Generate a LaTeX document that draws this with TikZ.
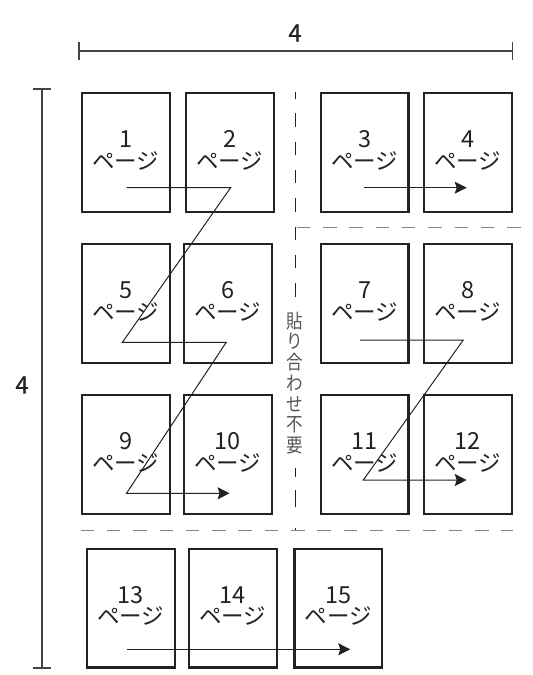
\documentclass[tikz,border=0pt]{standalone}
\usepackage{fontspec}
\setmainfont{Noto Sans CJK JP}
\newfontfamily\dimfont[FakeBold=0.5]{Noto Sans CJK JP}
\usetikzlibrary{arrows.meta,calc}
\definecolor{ink}{HTML}{222222}
\definecolor{dimc}{HTML}{444444}
\definecolor{dashc}{HTML}{858585}
\definecolor{vtc}{HTML}{555555}
\newcommand\mkpage[3]{%
  \node[pg] (b#1) at (#2,#3) {};
  \node[num] (n#1) at ($(b#1.center)+(0,-5)$) {#1};
  \node[kana] (k#1) at ($(b#1.center)+(0,16.5)$) {ページ};
}
\begin{document}
\begin{tikzpicture}[x=1pt,y=-1pt,
  pg/.style={draw=ink,line width=2.2pt,minimum width=87.8pt,minimum height=118.8pt,inner sep=0pt},
  num/.style={anchor=base,inner sep=0pt,font=\fontsize{23.5}{23.5}\selectfont,text=ink},
  kana/.style={anchor=base,inner sep=0pt,font=\fontsize{22.5}{22.5}\selectfont,text=ink},
  flow/.style={draw=ink,line width=1pt},
  flowarr/.style={flow,-{Stealth[length=12pt,width=12pt,inset=2pt]}},
  dimline/.style={draw=dimc,line width=1.2pt},
  dimlabel/.style={inner sep=0pt,font=\dimfont\fontsize{24}{24}\selectfont,text=ink},
  hdash/.style={draw=dashc,line width=1.4pt,dash pattern=on 13.5pt off 12.8pt},
  vdash/.style={draw=ink,line width=1pt,dash pattern=on 13.5pt off 14.8pt,dash phase=7pt},
  vdashb/.style={draw=ink,line width=1pt,dash pattern=on 9pt off 13pt on 17pt off 21pt on 3pt},
  vtext/.style={inner sep=0pt,align=center,text=vtc,font=\fontsize{18}{20.7}\selectfont},
]
\useasboundingbox (0,0) rectangle (533,675);

% dimension lines
\coordinate (dt1) at (79,51);
\coordinate (dt2) at (512.6,51);
\draw[dimline] (dt1) -- (dt2);
\draw[dimline] ($(dt1)+(0,-9)$) -- ($(dt1)+(0,9)$);
\draw[dimline] ($(dt2)+(0,-9)$) -- ($(dt2)+(0,9)$);
\node[dimlabel] (dl1) at (295,33) {4};
\coordinate (dv1) at (42,89);
\coordinate (dv2) at (42,668);
\draw[dimline] (dv1) -- (dv2);
\draw[dimline] ($(dv1)+(-9,0)$) -- ($(dv1)+(9,0)$);
\draw[dimline] ($(dv2)+(-9,0)$) -- ($(dv2)+(9,0)$);
\node[dimlabel] (dl2) at (22,385) {4};

% dashed guides
\coordinate (vd1) at (295,92);
\coordinate (vd2) at (295,297);
\coordinate (vd3) at (295,468);
\coordinate (vd4) at (295,531);
\draw[vdash] (vd1) -- (vd2);
\draw[vdashb] (vd3) -- (vd4);
\coordinate (hd1) at (296.7,227.5);
\coordinate (hd2) at (533,227.5);
\draw[hdash] (hd1) -- (hd2);
\coordinate (hd3) at (80.6,530.5);
\coordinate (hd4) at (512.6,530.5);
\draw[hdash] (hd3) -- (hd4);
\node[vtext] (vt) at (295,383) {\scalebox{0.92}[1.08]{貼}\\\scalebox{0.92}[1.08]{り}\\\scalebox{0.92}[1.08]{合}\\\scalebox{0.92}[1.08]{わ}\\\scalebox{0.92}[1.08]{せ}\\\scalebox{0.92}[1.08]{不}\\\scalebox{0.92}[1.08]{要}};

% pages
\mkpage{1}{125.7}{152.5}
\mkpage{2}{229.8}{152.5}
\mkpage{3}{364.6}{152.5}
\mkpage{4}{467.8}{152.5}
\mkpage{5}{125.7}{303.5}
\mkpage{6}{227.8}{303.5}
\mkpage{7}{364.6}{303.5}
\mkpage{8}{467.8}{303.5}
\mkpage{9}{125.7}{454.5}
\mkpage{10}{227.8}{454.5}
\mkpage{11}{364.6}{454.5}
\mkpage{12}{467.8}{454.5}
\mkpage{13}{130.8}{608}
\mkpage{14}{232.9}{608}
\mkpage{15}{338.3}{608}

% reading order paths
\coordinate (a1) at (126.5,187.7);
\coordinate (a2) at (230.6,187.7);
\coordinate (a3) at (122.4,342.3);
\coordinate (a4) at (226.2,342.3);
\coordinate (a5) at (126.5,493.3);
\coordinate (a6) at (229.6,493.3);
\draw[flowarr] (a1) -- (a2) -- (a3) -- (a4) -- (a5) -- (a6);
\coordinate (c1) at (364,187.7);
\coordinate (c2) at (466.7,187.7);
\draw[flowarr] (c1) -- (c2);
\coordinate (e1) at (360,340);
\coordinate (e2) at (463.3,340);
\coordinate (e3) at (363.3,480);
\coordinate (e4) at (466.7,480);
\draw[flowarr] (e1) -- (e2) -- (e3) -- (e4);
\coordinate (f1) at (126.5,649.3);
\coordinate (f2) at (350.3,649.3);
\draw[flowarr] (f1) -- (f2);
\end{tikzpicture}
\end{document}
